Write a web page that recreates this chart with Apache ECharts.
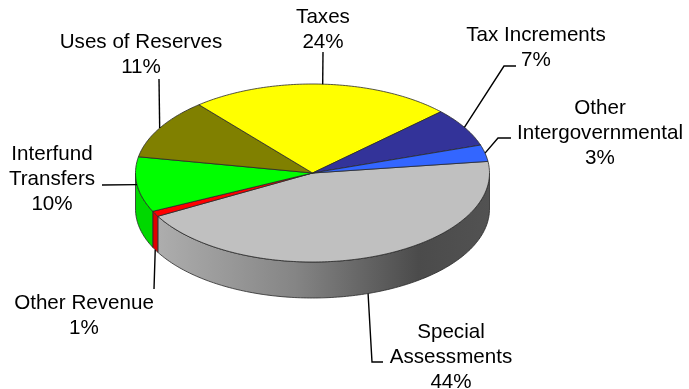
<!DOCTYPE html>
<html>
<head>
<meta charset="utf-8">
<script src="https://cdn.jsdelivr.net/npm/echarts@6/dist/echarts.min.js"></script>
<style>
  html, body { margin: 0; padding: 0; background: #ffffff; }
  #chart { width: 689px; height: 389px; }
</style>
</head>
<body>
<div id="chart"></div>
<script>
// Revenue sources, in slice order (clockwise from the right edge of the pie)
const categories = ['Special Assessments', 'Other Revenue', 'Interfund Transfers',
  'Uses of Reserves', 'Taxes', 'Tax Increments', 'Other Intergovernmental'];
const shares = [44, 1, 10, 11, 24, 7, 3];

// Slice colours: top face and front wall
const topColors = ['#c0c0c0', '#ff0000', '#00ff00', '#808000', '#ffff00', '#333399', '#3366ff'];
const sideColors = [null, '#e00000', '#00d800', '#6a6a00', '#d8d800', '#26267a', '#2a55d8'];

// Tilted-disc geometry (pixels) and rotation of the first slice (degrees, clockwise)
const disc = { cx: 312.5, cy: 173, rx: 177, ry: 89, depth: 36, startAngle: -7.5 };

// Label placement: text block centre, leader-line bend points, whether the
// leader leaves from the bottom of the front wall, and line wrapping
const labelLayout = {
  'Special Assessments':     { at: [451, 357], bends: [[372, 362], [383, 362]], fromWall: true, wrap: true },
  'Other Revenue':           { at: [84, 316],  bends: [[154, 289]], fromWall: true, wrap: false },
  'Interfund Transfers':     { at: [52, 179],  bends: [[102, 185]], fromWall: false, wrap: true },
  'Uses of Reserves':        { at: [141, 55],  bends: [[159, 79]], fromWall: false, wrap: false },
  'Taxes':                   { at: [323, 30],  bends: [[323, 52]], fromWall: false, wrap: false },
  'Tax Increments':          { at: [536, 48],  bends: [[504, 66], [516, 66]], fromWall: false, wrap: false },
  'Other Intergovernmental': { at: [600, 133], bends: [[498, 138], [511, 138]], fromWall: false, wrap: true }
};

const total = shares.reduce((s, v) => s + v, 0);

function ellipsePoint(deg, dy) {
  const r = deg * Math.PI / 180;
  return [disc.cx + disc.rx * Math.cos(r), disc.cy + disc.ry * Math.sin(r) + dy];
}

function arc(a, b, dy) {
  const n = Math.max(2, Math.ceil(Math.abs(b - a) / 1));
  const pts = [];
  for (let k = 0; k <= n; k++) pts.push(ellipsePoint(a + (b - a) * k / n, dy));
  return pts;
}

const wallGradient = new echarts.graphic.LinearGradient(
  disc.cx - disc.rx, 0, disc.cx + disc.rx, 0,
  [
    { offset: 0, color: '#b4b4b4' },
    { offset: 0.45, color: '#858585' },
    { offset: 0.8, color: '#4b4b4b' },
    { offset: 1, color: '#525252' }
  ],
  true
);

function renderSlice(params, api) {
  const i = params.dataIndex;
  let start = disc.startAngle;
  for (let j = 0; j < i; j++) start += shares[j] / total * 360;
  const end = start + api.value(1) / total * 360;
  const children = [];

  // Front wall: only the part of the rim facing the viewer (0..180 degrees)
  [0, 360, -360].forEach(function (shift) {
    const a = Math.max(start, shift), b = Math.min(end, shift + 180);
    if (b > a) {
      const pts = arc(a, b, 0).concat(arc(b, a, disc.depth));
      children.push({
        type: 'polygon', z2: 1, shape: { points: pts },
        style: { fill: sideColors[i] || wallGradient, stroke: '#2a2a2a', lineWidth: 0.8 }
      });
    }
  });

  // Top face
  const topPts = [[disc.cx, disc.cy]].concat(arc(start, end, 0));
  children.push({
    type: 'polygon', z2: 2, shape: { points: topPts },
    style: { fill: topColors[i], stroke: '#2a2a2a', lineWidth: 0.8 }
  });

  // Leader line and label
  const name = categories[i];
  const lay = labelLayout[name];
  const mid = (start + end) / 2;
  const anchor = ellipsePoint(mid, lay.fromWall ? disc.depth : 0);
  children.push({
    type: 'polyline', z2: 3, shape: { points: [anchor].concat(lay.bends) },
    style: { stroke: '#000000', lineWidth: 1.4, fill: null }
  });
  const title = lay.wrap ? name.replace(' ', '\n') : name;
  children.push({
    type: 'text', z2: 3, x: lay.at[0], y: lay.at[1],
    style: {
      text: title + '\n' + api.value(1) + '%',
      fill: '#000000',
      font: '20.6px "Liberation Sans", Arial, sans-serif',
      align: 'center', verticalAlign: 'middle', lineHeight: 25
    }
  });

  return { type: 'group', children: children };
}

const chart = echarts.init(document.getElementById('chart'), null, { renderer: 'canvas' });
chart.setOption({
  backgroundColor: '#ffffff',
  animation: false,
  series: [{
    type: 'custom',
    coordinateSystem: 'none',
    silent: true,
    renderItem: renderSlice,
    data: shares.map((v, i) => [i, v])
  }]
});
</script>
</body>
</html>
